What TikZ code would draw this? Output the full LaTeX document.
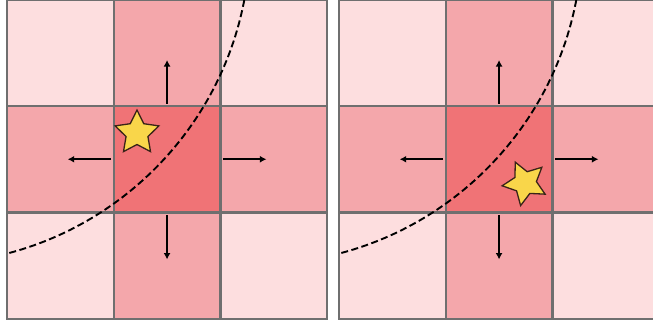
\documentclass[tikz,border=0pt]{standalone}
\usetikzlibrary{shapes.geometric,arrows.meta}
\definecolor{lightc}{HTML}{FDDEDF}
\definecolor{midc}{HTML}{F4A7AB}
\definecolor{centerc}{HTML}{F07376}
\definecolor{gridgray}{HTML}{6F6F6F}
\definecolor{staryellow}{HTML}{F9D64A}
\definecolor{staredge}{HTML}{3A2418}
\begin{document}
\begin{tikzpicture}[x=1pt,y=-1pt,
  cell/.style={draw=gridgray, line width=2.2pt, minimum width=106.7pt, minimum height=106.5pt, inner sep=0pt, outer sep=0pt, anchor=north west},
  arr/.style={line width=2.3pt, -{Latex[length=6.5pt,width=7pt]}},
  arcline/.style={line width=1.9pt, dash pattern=on 7pt off 3.5pt},
  starnode/.style={star, star points=5, star point ratio=2.0, minimum size=46pt, inner sep=0pt, fill=staryellow, draw=staredge, line width=1.3pt}]
\useasboundingbox (0,0) rectangle (653,327);
\clip (0,0) rectangle (653,327);
\foreach \p/\xo in {L/7, R/339} {
  \foreach \i in {0,1,2} {
    \foreach \j in {0,1,2} {
      \pgfmathtruncatemacro{\s}{(\i==1)+(\j==1)}
      \ifcase\s
        \node[cell, fill=lightc] (\p\i\j) at ({\xo+106.7*\i},{-0.5+106.5*\j}) {};
      \or
        \node[cell, fill=midc] (\p\i\j) at ({\xo+106.7*\i},{-0.5+106.5*\j}) {};
      \else
        \node[cell, fill=centerc] (\p\i\j) at ({\xo+106.7*\i},{-0.5+106.5*\j}) {};
      \fi
    }
  }
  \begin{scope}
    \clip (\xo,-1) rectangle ({\xo+320.1},319);
    \draw[arcline] ({\xo-82},-61) circle (325pt);
  \end{scope}
  \draw[arr] ([yshift=2.5pt]\p11.north) -- ([yshift=46pt]\p11.north);
  \draw[arr] ([yshift=-2.5pt]\p11.south) -- ([yshift=-47pt]\p11.south);
  \draw[arr] ([xshift=-2.5pt]\p11.west) -- ([xshift=-46pt]\p11.west);
  \draw[arr] ([xshift=2.5pt]\p11.east) -- ([xshift=46pt]\p11.east);
}
\node[starnode] (starL) at (137,133) {};
\node[starnode, rotate=25] (starR) at (525,183) {};
\end{tikzpicture}
\end{document}
